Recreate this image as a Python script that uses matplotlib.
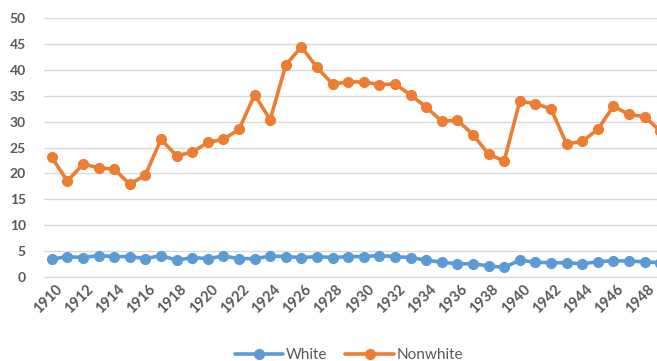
"""Line chart of white and nonwhite rates, 1910-1949."""

import matplotlib
matplotlib.use("Agg")
import matplotlib.pyplot as plt
from matplotlib.transforms import ScaledTranslation


years = list(range(1910, 1950))

white = [
    3.4, 3.9, 3.7, 4.1, 3.9, 3.9, 3.5, 4.1, 3.2, 3.7,
    3.5, 4.0, 3.5, 3.5, 4.0, 3.9, 3.7, 3.9, 3.7, 3.9,
    3.9, 4.1, 3.9, 3.7, 3.2, 2.8, 2.5, 2.5, 2.1, 1.8,
    3.2, 2.8, 2.7, 2.7, 2.5, 2.9, 3.1, 3.0, 2.9, 2.7,
]

nonwhite = [
    23.1, 18.5, 21.8, 21.1, 20.8, 17.9, 19.7, 26.6, 23.4, 24.1,
    26.0, 26.6, 28.5, 35.2, 30.4, 41.0, 44.5, 40.5, 37.3, 37.7,
    37.7, 37.2, 37.3, 35.2, 32.8, 30.1, 30.3, 27.5, 23.7, 22.4,
    34.0, 33.5, 32.5, 25.7, 26.2, 28.5, 33.0, 31.4, 31.0, 28.2,
]

tick_years = years[::2]
y_ticks = list(range(0, 51, 5))

BLUE = "#5B9BD5"
ORANGE = "#ED7D31"
TEXT = "#595959"
GRID = "#D9D9D9"

plt.rcParams["font.family"] = ["Lato", "DejaVu Sans"]

fig = plt.figure(figsize=(6.57, 3.61), dpi=100)
# the category axis runs a little past the right edge of the figure
ax = fig.add_axes([44 / 657, 0.2335, 624 / 657, 0.7155])

line_kw = dict(linewidth=2.6, marker="o", markersize=7, solid_capstyle="round")
ax.plot(years, white, color=BLUE, label="White", **line_kw)
ax.plot(years, nonwhite, color=ORANGE, label="Nonwhite", **line_kw)

ax.set_xlim(1909.5, 1949.5)
ax.set_ylim(0, 50)
ax.set_yticks(y_ticks)
ax.set_xticks(tick_years)
ax.set_xticklabels([str(y) for y in tick_years], rotation=45, ha="right",
                   rotation_mode="anchor")

ax.grid(axis="y", color=GRID, linewidth=1.0)
ax.set_axisbelow(True)
for side in ["top", "right", "left"]:
    ax.spines[side].set_visible(False)
ax.spines["bottom"].set_color(GRID)

ax.tick_params(axis="both", length=0, colors=TEXT)
ax.tick_params(axis="y", pad=13, labelsize=10)
ax.tick_params(axis="x", pad=4, labelsize=10.5)

# shift the rotated year labels a few pixels right of their ticks
shift = ScaledTranslation(3 / 100, 0, fig.dpi_scale_trans)
for lbl in ax.get_xticklabels():
    lbl.set_fontweight("bold")
    lbl.set_transform(lbl.get_transform() + shift)
for lbl in ax.get_yticklabels():
    lbl.set_fontweight("bold")

fig.legend(loc="center", bbox_to_anchor=(0.531, 0.016), ncol=2,
           frameon=False, fontsize=11, labelcolor=TEXT, handlelength=3.2,
           handletextpad=0.15, columnspacing=1.2, borderpad=0.0)

fig.savefig("out.png", dpi=100)
